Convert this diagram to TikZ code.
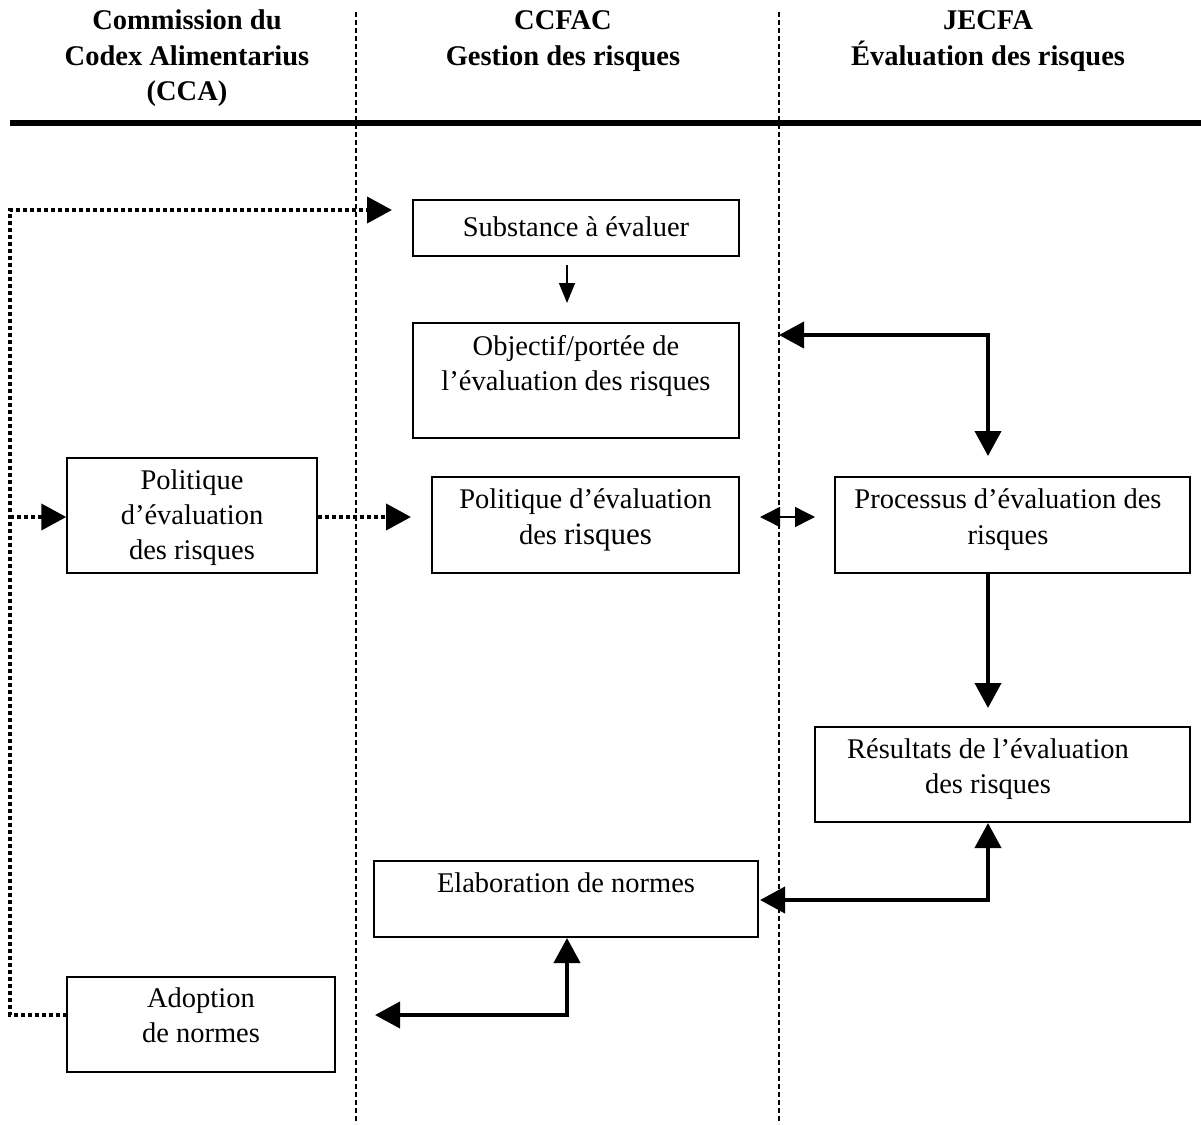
\documentclass[tikz,border=0pt]{standalone}
\usepackage{fontspec}
\setmainfont{Liberation Serif}
\usetikzlibrary{arrows.meta}
\begin{document}
\begin{tikzpicture}[x=1pt,y=-1pt,
  box/.style={draw,line width=1.5pt,rectangle,inner sep=0pt},
  txt/.style={anchor=base,align=center,inner sep=0pt,font=\fontsize{28.5}{35}\selectfont},
  hdr/.style={anchor=base,align=center,inner sep=0pt,font=\fontsize{28.5}{35}\selectfont\bfseries},
  sep/.style={line width=1.3pt,dash pattern=on 5pt off 3pt},
  dotarrow/.style={line width=4pt,dash pattern=on 4pt off 3pt,-{Triangle[length=25pt,width=26pt]}},
  dotline/.style={line width=4pt,dash pattern=on 4pt off 3pt},
  thick2/.style={line width=4pt,{Triangle[length=25pt,width=26pt]}-{Triangle[length=25pt,width=26pt]}},
  thick1/.style={line width=4pt,-{Triangle[length=25pt,width=26pt]}}
]
\useasboundingbox (0,0) rectangle (1201,1124);
% headers
\node[hdr] (h1) at (187,30) {Commission du};
\node[hdr] (h2) at (187,65) {Codex Alimentarius};
\node[hdr] (h3) at (187,100) {(CCA)};
\node[hdr] (h4) at (563,30) {CCFAC};
\node[hdr] (h5) at (563,65) {Gestion des risques};
\node[hdr] (h6) at (988,30) {JECFA};
\node[hdr] (h7) at (988,65) {Évaluation des risques};
% separators
\coordinate (r1) at (10,123);
\coordinate (r2) at (1201,123);
\draw[line width=6pt] (r1) -- (r2);
\coordinate (v1t) at (356,12); \coordinate (v1b) at (356,1124);
\coordinate (v2t) at (779,12); \coordinate (v2b) at (779,1124);
\draw[sep] (v1t) -- (v1b);
\draw[sep] (v2t) -- (v2b);
% boxes
\node[box,minimum width=326pt,minimum height=56pt] (subs) at (576,228) {};
\node[txt] (subst) at (576,236) {Substance à évaluer};
\node[box,minimum width=326pt,minimum height=115pt] (obj) at (576,380.5) {};
\node[txt] (objt1) at (576,355) {Objectif/portée de};
\node[txt] (objt2) at (576,390) {l’évaluation des risques};
\node[box,minimum width=250pt,minimum height=115pt] (pol1) at (192,515.5) {};
\node[txt] (pol1a) at (192,489) {Politique};
\node[txt] (pol1b) at (192,524) {d’évaluation};
\node[txt] (pol1c) at (192,559) {des risques};
\node[box,minimum width=307pt,minimum height=96pt] (pol2) at (585.5,525) {};
\node[txt] (pol2a) at (585.5,508) {Politique d’évaluation};
\node[txt] (pol2b) at (585.5,544) {des {\fontsize{31}{35}\selectfont risques}};
\node[box,minimum width=355pt,minimum height=96pt] (proc) at (1012.5,525) {};
\node[txt] (proca) at (1008,508) {Processus d’évaluation des};
\node[txt] (procb) at (1008,544) {risques};
\node[box,minimum width=375pt,minimum height=95pt] (res) at (1002.5,774.5) {};
\node[txt] (resa) at (988,758) {Résultats de l’évaluation};
\node[txt] (resb) at (988,793) {des risques};
\node[box,minimum width=384pt,minimum height=76pt] (elab) at (566,899) {};
\node[txt] (elabt) at (566,892) {Elaboration de normes};
\node[box,minimum width=268pt,minimum height=95pt] (adop) at (201,1024.5) {};
\node[txt] (adopa) at (201,1007) {Adoption};
\node[txt] (adopb) at (201,1042) {de normes};
% connectors
\coordinate (dA) at (67,1015);
\coordinate (dB) at (10,1015);
\coordinate (dC) at (10,210);
\coordinate (dD) at (392,210);
\draw[dotarrow] (dA) -- (dB) -- (dC) -- (dD);
\coordinate (dE) at (10,517);
\draw[dotarrow] (dE) -- (pol1.west |- dE);
\coordinate (dF) at (411,517);
\draw[dotarrow] (pol1.east |- dF) -- (dF);
\coordinate (a1) at (567,265);
\coordinate (a2) at (567,303);
\draw[line width=1.5pt,-{Triangle[length=20pt,width=16pt]}] (a1) -- (a2);
\coordinate (b1) at (779,335);
\coordinate (b2) at (988,335);
\coordinate (b3) at (988,456);
\draw[thick2] (b1) -- (b2) -- (b3);
\coordinate (c1) at (760,517);
\coordinate (c2) at (815,517);
\draw[line width=1.5pt,{Triangle[length=20pt,width=20pt]}-{Triangle[length=20pt,width=20pt]}] (c1) -- (c2);
\coordinate (e1) at (988,708);
\draw[thick1] (proc.south -| e1) -- (e1);
\coordinate (f1) at (760,900);
\coordinate (f2) at (988,900);
\coordinate (f3) at (988,823);
\draw[thick2] (f1) -- (f2) -- (f3);
\coordinate (g1) at (375,1015);
\coordinate (g2) at (567,1015);
\coordinate (g3) at (567,938);
\draw[thick2] (g1) -- (g2) -- (g3);
\end{tikzpicture}
\end{document}
